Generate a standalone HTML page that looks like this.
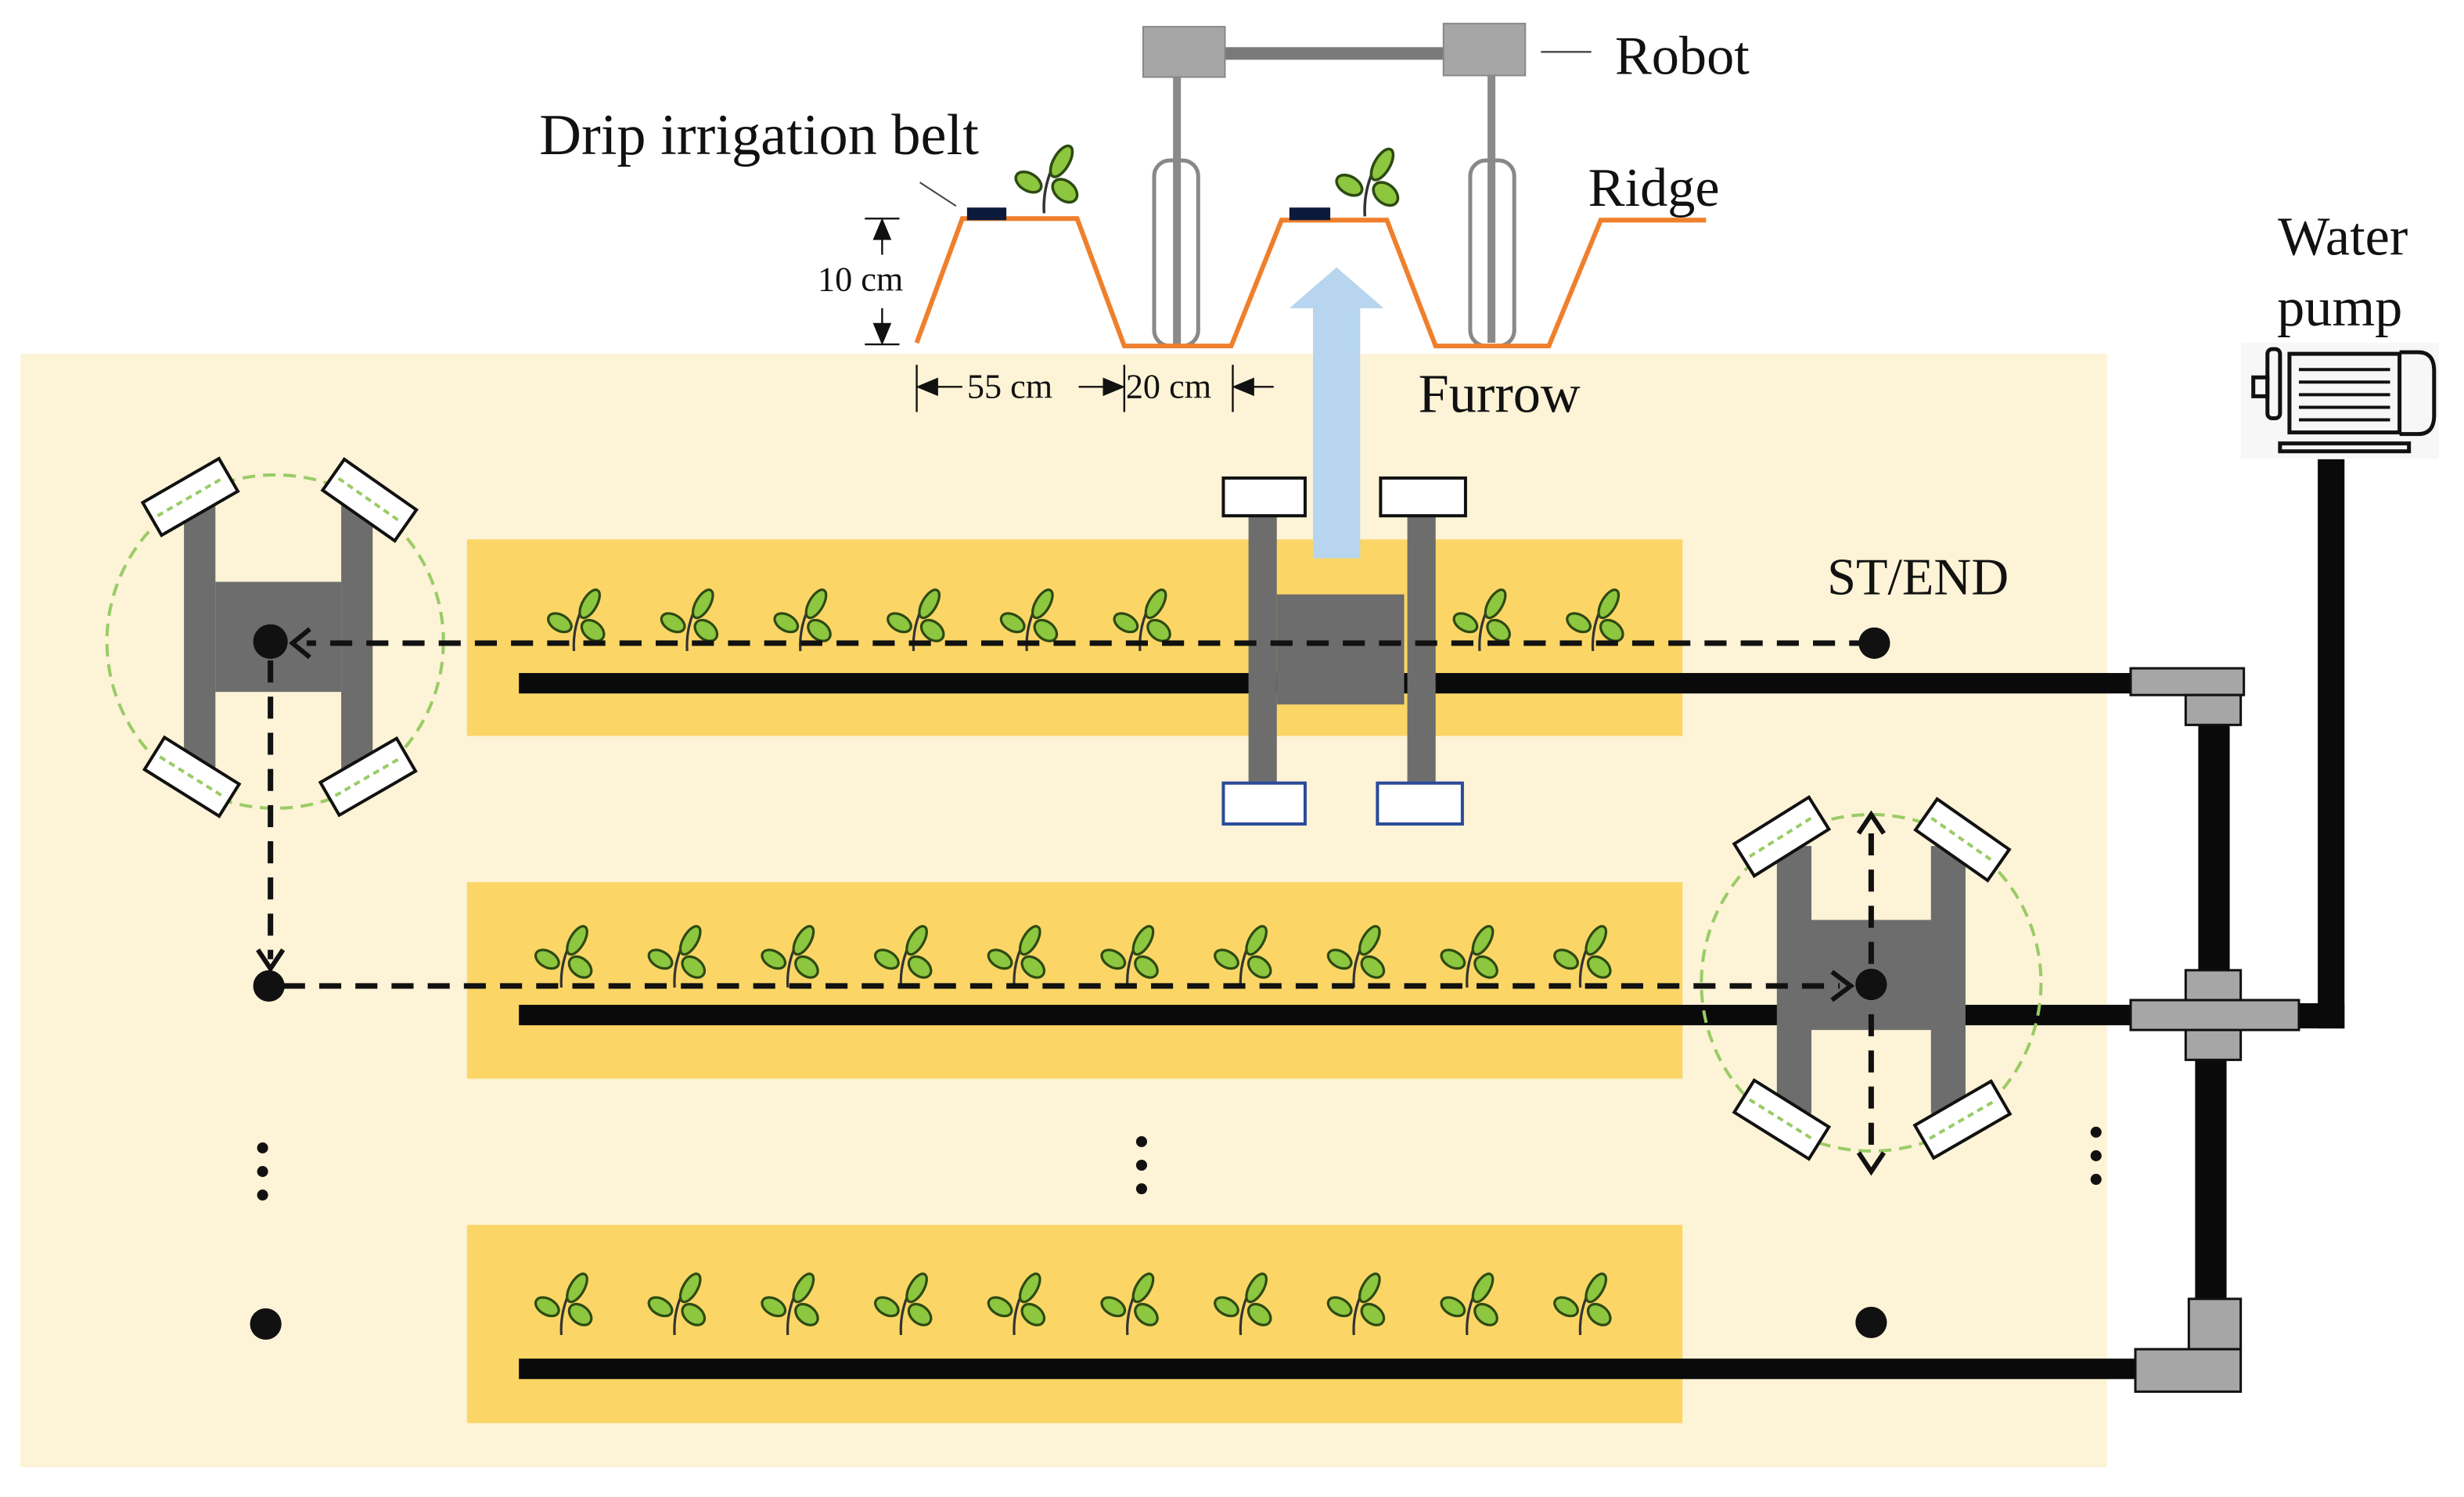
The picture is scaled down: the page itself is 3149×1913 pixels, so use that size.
<!DOCTYPE html>
<html><head><meta charset="utf-8"><style>
html,body{margin:0;padding:0;background:#fff;}
svg{display:block;}
text{font-family:"Liberation Serif",serif;fill:#111;}
</style></head><body>
<svg width="3149" height="1913" viewBox="0 0 1567 952" preserveAspectRatio="none" xmlns="http://www.w3.org/2000/svg">
<defs>
<g id="pl">
<path d="M0,16 Q-1,0 7,-15" stroke="#333" stroke-width="1.6" fill="none"/>
<ellipse cx="10" cy="-14" rx="4.5" ry="10" transform="rotate(30 10 -14)" fill="#8dc63f" stroke="#2d4a12" stroke-width="1.6"/>
<ellipse cx="-9" cy="-2" rx="8" ry="5" transform="rotate(30 -9 -2)" fill="#8dc63f" stroke="#2d4a12" stroke-width="1.6"/>
<ellipse cx="12" cy="3" rx="8" ry="5.5" transform="rotate(40 12 3)" fill="#8dc63f" stroke="#2d4a12" stroke-width="1.6"/>
</g>
<g id="wh"><rect x="-28" y="-12" width="56" height="24" fill="#fff" stroke="#111" stroke-width="2"/><line x1="-24" y1="0" x2="24" y2="0" stroke="#9c6" stroke-width="2" stroke-dasharray="4 3"/></g>
</defs>
<rect x="13" y="225" width="1327" height="708" fill="#fdf3d6"/>
<rect x="297" y="343" width="773" height="125" fill="#fbd666"/>
<rect x="297" y="561" width="773" height="125" fill="#fbd666"/>
<rect x="297" y="779" width="773" height="126" fill="#fbd666"/>
<rect x="330" y="428" width="1030" height="13" fill="#0a0a0a"/>
<rect x="330" y="639" width="1030" height="13" fill="#0a0a0a"/>
<rect x="330" y="864" width="1035" height="13" fill="#0a0a0a"/>
<rect x="1398" y="455" width="20" height="170" fill="#0a0a0a"/>
<rect x="1396" y="670" width="20" height="160" fill="#0a0a0a"/>
<rect x="1474" y="292" width="17" height="362" fill="#0a0a0a"/>
<rect x="1455" y="638" width="36" height="16" fill="#0a0a0a"/>
<g fill="#a6a6a6" stroke="#111" stroke-width="1.5">
<rect x="1355" y="425" width="72" height="17"/><rect x="1390" y="442" width="35" height="19"/>
<rect x="1390" y="617" width="35" height="57"/><rect x="1355" y="636" width="107" height="19"/>
<rect x="1392" y="826" width="33" height="32"/><rect x="1358" y="858" width="67" height="27"/>
</g>
<rect x="1425" y="218" width="126" height="74" fill="#f7f7f7"/>
<g fill="none" stroke="#111" stroke-width="2.5">
<rect x="1442" y="222" width="8" height="44" rx="3"/><rect x="1456" y="225" width="70" height="50"/>
<path d="M1526,224 h12 q10,0 10,12 v28 q0,12 -10,12 h-12"/><rect x="1433" y="240" width="9" height="12"/>
<rect x="1450" y="282" width="82" height="5"/>
</g>
<g stroke="#111" stroke-width="2"><line x1="1462" y1="235" x2="1520" y2="235"/><line x1="1462" y1="243" x2="1520" y2="243"/><line x1="1462" y1="251" x2="1520" y2="251"/><line x1="1462" y1="259" x2="1520" y2="259"/><line x1="1462" y1="267" x2="1520" y2="267"/></g>
<text x="1490" y="162" font-size="35" text-anchor="middle">Water</text>
<text x="1488" y="207" font-size="35" text-anchor="middle">pump</text>
<text x="1162" y="378" font-size="33">ST/END</text>
<g>
<use href="#pl" x="365" y="398"/><use href="#pl" x="437" y="398"/><use href="#pl" x="509" y="398"/><use href="#pl" x="581" y="398"/><use href="#pl" x="653" y="398"/><use href="#pl" x="725" y="398"/><use href="#pl" x="941" y="398"/><use href="#pl" x="1013" y="398"/>
<use href="#pl" x="357" y="612"/><use href="#pl" x="429" y="612"/><use href="#pl" x="501" y="612"/><use href="#pl" x="573" y="612"/><use href="#pl" x="645" y="612"/><use href="#pl" x="717" y="612"/><use href="#pl" x="789" y="612"/><use href="#pl" x="861" y="612"/><use href="#pl" x="933" y="612"/><use href="#pl" x="1005" y="612"/>
<use href="#pl" x="357" y="833"/><use href="#pl" x="429" y="833"/><use href="#pl" x="501" y="833"/><use href="#pl" x="573" y="833"/><use href="#pl" x="645" y="833"/><use href="#pl" x="717" y="833"/><use href="#pl" x="789" y="833"/><use href="#pl" x="861" y="833"/><use href="#pl" x="933" y="833"/><use href="#pl" x="1005" y="833"/>
</g>
<ellipse cx="175" cy="408" rx="107" ry="106" fill="none" stroke="#9c6" stroke-width="2" stroke-dasharray="8 5"/>
<rect x="117" y="320" width="20" height="172" fill="#6d6d6d"/><rect x="217" y="320" width="20" height="172" fill="#6d6d6d"/>
<rect x="137" y="370" width="80" height="70" fill="#6d6d6d"/>
<use href="#wh" transform="translate(121,316) rotate(-30)"/><use href="#wh" transform="translate(235,318) rotate(35)"/>
<use href="#wh" transform="translate(122,494) rotate(32)"/><use href="#wh" transform="translate(234,494) rotate(-30)"/>
<ellipse cx="1190" cy="625" rx="108" ry="107" fill="none" stroke="#9c6" stroke-width="2" stroke-dasharray="8 5"/>
<rect x="1130" y="538" width="22" height="170" fill="#6d6d6d"/><rect x="1228" y="538" width="22" height="170" fill="#6d6d6d"/>
<rect x="1150" y="585" width="80" height="70" fill="#6d6d6d"/>
<use href="#wh" transform="translate(1133,532) rotate(-32)"/><use href="#wh" transform="translate(1248,534) rotate(35)"/>
<use href="#wh" transform="translate(1133,712) rotate(32)"/><use href="#wh" transform="translate(1248,712) rotate(-30)"/>
<rect x="794" y="328" width="18" height="170" fill="#6d6d6d"/><rect x="895" y="328" width="18" height="170" fill="#6d6d6d"/>
<rect x="812" y="378" width="81" height="70" fill="#6d6d6d"/>
<g fill="#fff" stroke="#111" stroke-width="2"><rect x="778" y="304" width="52" height="24"/><rect x="878" y="304" width="54" height="24"/></g>
<g fill="#fff" stroke="#2a4a9a" stroke-width="2"><rect x="778" y="498" width="52" height="26"/><rect x="876" y="498" width="54" height="26"/></g>
<path d="M835,355 V196 H820 L850,170 L880,196 H865 V355 Z" fill="#b7d5ee"/>
<g stroke="#111" stroke-width="3.5" fill="none" stroke-dasharray="14 9">
<line x1="1190" y1="409" x2="195" y2="409"/><line x1="172" y1="420" x2="172" y2="610"/>
<line x1="180" y1="627" x2="1170" y2="627"/><line x1="1190" y1="530" x2="1190" y2="735"/>
</g>
<g stroke="#111" stroke-width="3" fill="none">
<path d="M197,400 L186,409 L197,418"/><path d="M164,604 L172,616 L180,604"/>
<path d="M1165,618 L1177,627 L1165,636"/><path d="M1182,530 L1190,518 L1198,530"/><path d="M1182,733 L1190,745 L1198,733"/>
</g>
<g fill="#111">
<circle cx="1192" cy="409" r="10"/><circle cx="172" cy="408" r="11"/><circle cx="171" cy="627" r="10"/><circle cx="169" cy="842" r="10"/><circle cx="1190" cy="841" r="10"/><circle cx="1190" cy="626" r="10"/>
<circle cx="167" cy="730" r="3.5"/><circle cx="167" cy="745" r="3.5"/><circle cx="167" cy="760" r="3.5"/>
<circle cx="726" cy="726" r="3.5"/><circle cx="726" cy="741" r="3.5"/><circle cx="726" cy="756" r="3.5"/>
<circle cx="1333" cy="720" r="3.5"/><circle cx="1333" cy="735" r="3.5"/><circle cx="1333" cy="750" r="3.5"/>
</g>
<rect x="779" y="30" width="139" height="8" fill="#7a7a7a"/>
<rect x="727" y="17" width="52" height="32" fill="#a6a6a6" stroke="#888"/><rect x="918" y="15" width="52" height="33" fill="#a6a6a6" stroke="#888"/>
<rect x="746" y="49" width="5" height="170" fill="#8a8a8a"/><rect x="946" y="48" width="5" height="170" fill="#8a8a8a"/>
<rect x="734" y="102" width="28" height="118" rx="10" fill="none" stroke="#888" stroke-width="2.5"/>
<rect x="935" y="102" width="28" height="118" rx="10" fill="none" stroke="#888" stroke-width="2.5"/>
<polyline points="583,218 612,139 685,139 715,220 783,220 815,140 882,140 913,220 985,220 1018,140 1085,140" fill="none" stroke="#f07f2c" stroke-width="3"/>
<rect x="615" y="132" width="25" height="8" fill="#0b1a3a"/><rect x="820" y="132" width="26" height="8" fill="#0b1a3a"/>
<use href="#pl" transform="translate(664,118) scale(1.1)"/><use href="#pl" transform="translate(868,120) scale(1.1)"/>
<line x1="585" y1="116" x2="608" y2="131" stroke="#444" stroke-width="1"/>
<line x1="980" y1="33" x2="1012" y2="33" stroke="#444" stroke-width="1.2"/>
<text x="343" y="98" font-size="37">Drip irrigation belt</text>
<text x="1027" y="47" font-size="35">Robot</text>
<text x="1010" y="131" font-size="35">Ridge</text>
<text x="902" y="262" font-size="35">Furrow</text>
<text x="520" y="185" font-size="22">10 cm</text>
<g stroke="#111" stroke-width="1.2" fill="#111">
<line x1="550" y1="139" x2="572" y2="139"/><line x1="550" y1="219" x2="572" y2="219"/>
<line x1="561" y1="150" x2="561" y2="162"/><path d="M556,152 L561,140 L566,152 Z"/>
<line x1="561" y1="196" x2="561" y2="208"/><path d="M556,206 L561,218 L566,206 Z"/>
<line x1="583" y1="232" x2="583" y2="262"/><line x1="715" y1="232" x2="715" y2="262"/><line x1="784" y1="232" x2="784" y2="262"/>
<path d="M584,246 L596,241 L596,251 Z"/><line x1="596" y1="246" x2="612" y2="246"/>
<path d="M714,246 L702,241 L702,251 Z"/><line x1="686" y1="246" x2="702" y2="246"/>
<path d="M785,246 L797,241 L797,251 Z"/><line x1="797" y1="246" x2="810" y2="246"/>
</g>
<text x="615" y="253" font-size="22">55 cm</text>
<text x="716" y="253" font-size="22">20 cm</text>
</svg>
</body></html>
